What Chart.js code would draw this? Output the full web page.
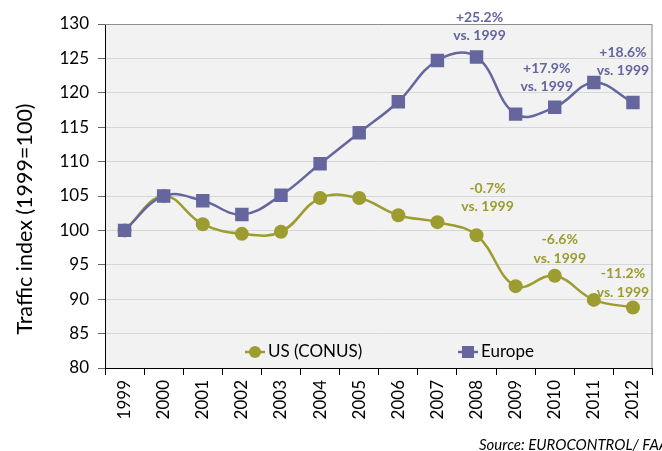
<!DOCTYPE html>
<html><head><meta charset="utf-8">
<script src="https://cdn.jsdelivr.net/npm/chart.js@4/dist/chart.umd.min.js"></script>
<style>html,body{margin:0;padding:0;background:#fff;overflow:hidden}</style>
</head><body>
<canvas id="c" width="662" height="451"></canvas>
<script>
// ---- data ----
const years = ['1999','2000','2001','2002','2003','2004','2005','2006','2007','2008','2009','2010','2011','2012'];
const usValues = [100, 105.0, 100.9, 99.5, 99.8, 104.7, 104.7, 102.2, 101.2, 99.3, 91.9, 93.4, 89.9, 88.8];
const europeValues = [100, 105.0, 104.3, 102.3, 105.1, 109.7, 114.2, 118.7, 124.7, 125.2, 116.9, 117.9, 121.5, 118.6];
const yMin = 80, yMax = 130, yStep = 5;
const seriesNames = ['US (CONUS)', 'Europe'];
const usNotes = [
  {year:'2008', lines:['-0.7%','vs. 1999']},
  {year:'2010', lines:['-6.6%','vs. 1999']},
  {year:'2012', lines:['-11.2%','vs. 1999']}
];
const europeNotes = [
  {year:'2008', lines:['+25.2%','vs. 1999']},
  {year:'2010', lines:['+17.9%','vs. 1999']},
  {year:'2012', lines:['+18.6%','vs. 1999']}
];
const yTitle = 'Traffic index (1999=100)';
const sourceText = 'Source: EUROCONTROL/ FAA';

// ---- style ----
const FONT = 'Lato, "Open Sans", sans-serif';
const US_COLOR = '#9c9c30';
const EU_COLOR = '#65669e';
// pixel offsets of note text (first line centre) from its data point
const usNoteOffsets = [[11,-47],[5,-36],[-10,-33.5]];
const euNoteOffsets = [[3,-40],[-8,-39],[-10,-50]];
const NOTE_LINE = 18.5;

function fitFont(ctx, text, target, prefix) {
  let size = 10;
  for (let s = 10; s <= 30; s += 0.25) {
    ctx.font = prefix + s + 'px ' + FONT;
    if (ctx.measureText(text).width > target) break;
    size = s;
  }
  ctx.font = prefix + size + 'px ' + FONT;
}

const decor = {
  id: 'decor',
  beforeDraw(chart) {
    const {ctx, chartArea: a} = chart;
    ctx.save();
    ctx.fillStyle = '#f2f2f2';
    ctx.fillRect(a.left, a.top, a.right - a.left, a.bottom - a.top);
    ctx.restore();
  },
  beforeDatasetsDraw(chart) {
    const {ctx, chartArea: a, scales} = chart;
    ctx.save();
    // top/right border
    ctx.strokeStyle = '#8c8c8c';
    ctx.lineWidth = 1;
    ctx.beginPath();
    ctx.moveTo(a.left, a.top + 0.5);
    ctx.lineTo(a.right - 0.5, a.top + 0.5);
    ctx.lineTo(a.right - 0.5, a.bottom);
    ctx.stroke();
    // legend
    const ly = a.bottom - 16;
    const items = [
      {x: a.left + 140, color: US_COLOR, style: 'circle', text: seriesNames[0]},
      {x: a.left + 353, color: EU_COLOR, style: 'rect', text: seriesNames[1]}
    ];
    items.forEach(it => {
      ctx.strokeStyle = it.color; ctx.lineWidth = 2.5;
      ctx.beginPath(); ctx.moveTo(it.x, ly); ctx.lineTo(it.x + 20, ly); ctx.stroke();
      ctx.fillStyle = it.color;
      if (it.style === 'circle') { ctx.beginPath(); ctx.arc(it.x + 10, ly, 6, 0, Math.PI*2); ctx.fill(); }
      else { ctx.fillRect(it.x + 4, ly - 6, 12, 12); }
      ctx.fillStyle = '#000';
      ctx.font = '17px ' + FONT;
      ctx.textBaseline = 'middle'; ctx.textAlign = 'left';
      ctx.fillText(it.text, it.x + 23, ly);
    });
    // notes
    const drawNotes = (notes, offs, values, color) => {
      ctx.fillStyle = color;
      ctx.font = 'bold 14px ' + FONT;
      ctx.textAlign = 'center'; ctx.textBaseline = 'middle';
      notes.forEach((n, i) => {
        const idx = years.indexOf(n.year);
        const px = scales.x.getPixelForValue(idx);
        const py = scales.y.getPixelForValue(values[idx]);
        n.lines.forEach((t, j) => ctx.fillText(t, px + offs[i][0], py + offs[i][1] + j * NOTE_LINE));
      });
    };
    drawNotes(europeNotes, euNoteOffsets, europeValues, EU_COLOR);
    drawNotes(usNotes, usNoteOffsets, usValues, US_COLOR);
    ctx.restore();
  },
  afterDraw(chart) {
    const {ctx} = chart;
    ctx.save();
    // y title
    ctx.translate(25, 219);
    ctx.rotate(-Math.PI / 2);
    ctx.fillStyle = '#000';
    fitFont(ctx, yTitle, 232, '');
    ctx.textAlign = 'center'; ctx.textBaseline = 'middle';
    ctx.fillText(yTitle, 0, 0);
    ctx.restore();
    ctx.save();
    ctx.fillStyle = '#000';
    fitFont(ctx, sourceText, 190, 'italic ');
    ctx.textAlign = 'left'; ctx.textBaseline = 'middle';
    ctx.fillText(sourceText, 479, 445);
    ctx.restore();
  }
};

new Chart(document.getElementById('c'), {
  type: 'line',
  data: {
    labels: years,
    datasets: [
      {label: seriesNames[0], data: usValues, borderColor: US_COLOR, backgroundColor: US_COLOR,
       borderWidth: 2.5, pointStyle: 'circle', pointRadius: 7, pointBorderWidth: 0, tension: 0.4, order: 2},
      {label: seriesNames[1], data: europeValues, borderColor: EU_COLOR, backgroundColor: EU_COLOR,
       borderWidth: 2.5, pointStyle: 'rect', pointRadius: 9.5, pointBorderWidth: 0, tension: 0.4, order: 1}
    ]
  },
  options: {
    responsive: false,
    animation: false,
    layout: {padding: {left: 0, top: 24, right: 8, bottom: 0}},
    plugins: {legend: {display: false}, tooltip: {enabled: false}},
    scales: {
      x: {
        offset: true,
        grid: {offset: true, drawOnChartArea: false, drawTicks: true, tickLength: 7, tickColor: '#000'},
        border: {color: '#000', width: 1},
        ticks: {color: '#000', font: {family: FONT, size: 17}, minRotation: 90, maxRotation: 90, padding: 5, autoSkip: false},
        afterFit(s) { s.height = 83; }
      },
      y: {
        min: yMin, max: yMax,
        grid: {color: '#d6d6d6', tickColor: '#666', tickLength: 7},
        border: {color: '#000', width: 1},
        ticks: {stepSize: yStep, color: '#000', font: {family: FONT, size: 17}, padding: 9},
        afterFit(s) { s.width = 105; }
      }
    }
  },
  plugins: [decor]
});
</script>
</body></html>
